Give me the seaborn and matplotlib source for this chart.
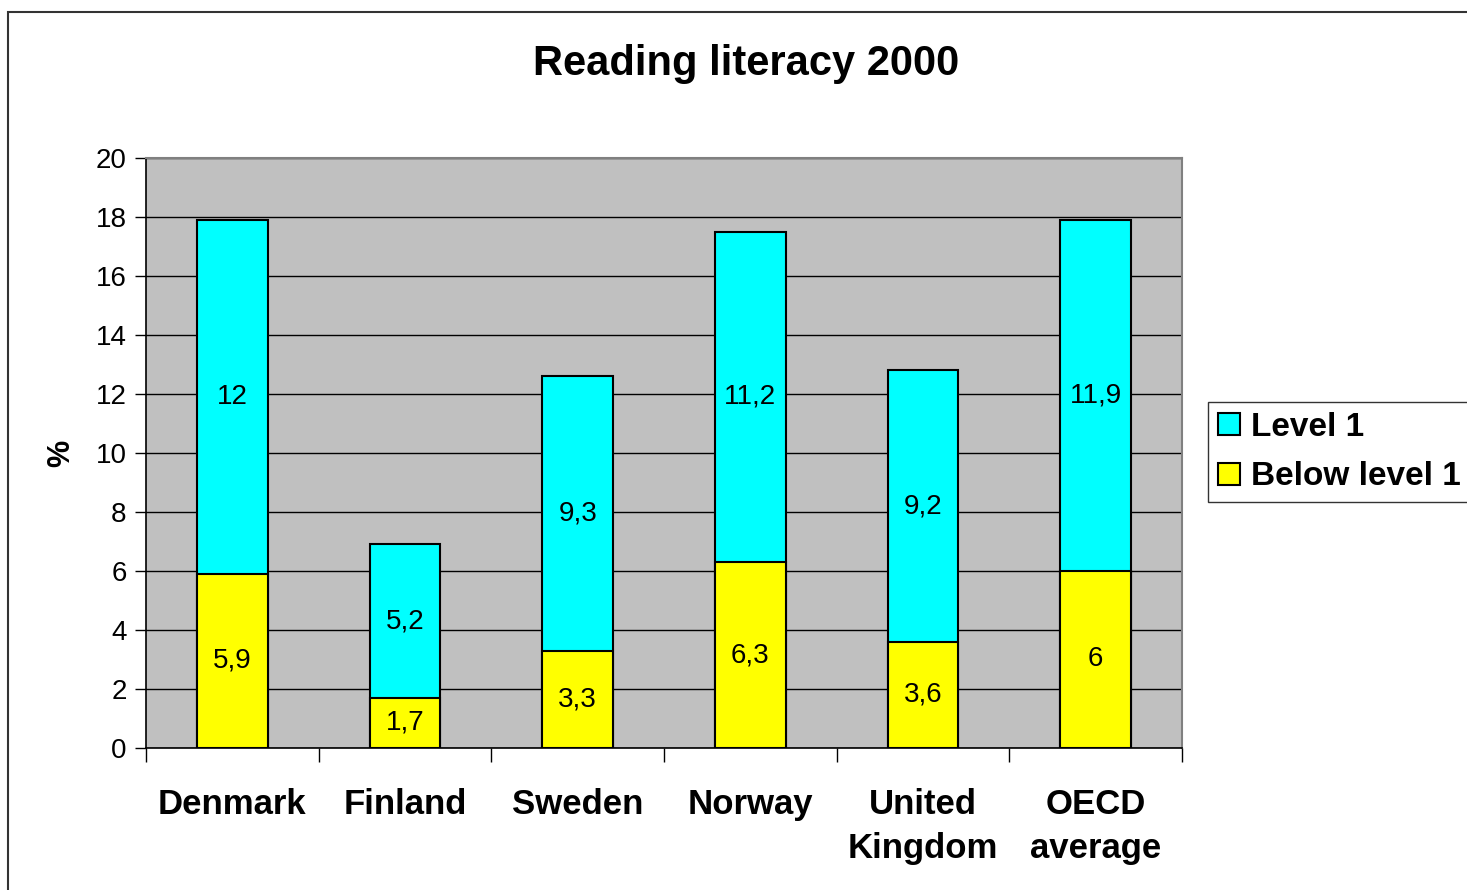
import matplotlib
matplotlib.use("Agg")
import matplotlib.pyplot as plt
import matplotlib.patches as mpatches
import numpy as np
import pandas as pd
import seaborn as sns

countries = ["Denmark", "Finland", "Sweden", "Norway", "United\nKingdom", "OECD\naverage"]
below_level1 = [5.9, 1.7, 3.3, 6.3, 3.6, 6.0]
level1 = [12.0, 5.2, 9.3, 11.2, 9.2, 11.9]
bar_labels_below = ["5,9", "1,7", "3,3", "6,3", "3,6", "6"]
bar_labels_level1 = ["12", "5,2", "9,3", "11,2", "9,2", "11,9"]

df = pd.DataFrame({"country": countries, "below": below_level1, "level1": level1})
df["total"] = df["below"] + df["level1"]

sns.set_style("white")
plt.rcParams["font.family"] = ["Liberation Sans", "DejaVu Sans"]
plt.rcParams["text.color"] = "black"
plt.rcParams["axes.labelcolor"] = "black"
plt.rcParams["xtick.color"] = "black"
plt.rcParams["ytick.color"] = "black"

fig = plt.figure(figsize=(14.67, 8.9), dpi=100)
ax = fig.add_axes([146 / 1467, 1 - 748 / 890, (1182 - 146) / 1467, (748 - 158) / 890])
ax.set_facecolor("#c0c0c0")

sns.barplot(data=df, x="country", y="total", color="#00ffff", saturation=1,
            width=0.41, edgecolor="black", linewidth=1.5, ax=ax, zorder=3)
sns.barplot(data=df, x="country", y="below", color="#ffff00", saturation=1,
            width=0.41, edgecolor="black", linewidth=1.5, ax=ax, zorder=4)

# segment labels in the middle of each piece
for i, row in df.iterrows():
    ax.text(i, row["below"] / 2, bar_labels_below[i], ha="center", va="center",
            fontsize=20, zorder=5)
    ax.text(i, row["below"] + row["level1"] / 2, bar_labels_level1[i], ha="center",
            va="center", fontsize=20, zorder=5)

ax.set_ylim(0, 20)
ax.set_xlim(-0.5, len(countries) - 0.5)
ax.set_yticks(np.arange(0, 21, 2))
ax.yaxis.grid(True, color="black", linewidth=1)
ax.set_axisbelow(True)
ax.tick_params(axis="y", left=True, length=8, width=1, labelsize=20, pad=6)

ax.set_xticks(range(len(countries)))
ax.set_xticklabels(countries, fontsize=25, fontweight="bold", linespacing=1.45, va="top")
ax.tick_params(axis="x", bottom=False, pad=25)
ax.set_xticks(np.arange(-0.5, len(countries), 1), minor=True)
ax.tick_params(axis="x", which="minor", bottom=True, length=10, width=1, color="black")

ax.set_xlabel("")
ax.set_ylabel("%", fontsize=22, fontweight="bold", labelpad=14)

for side in ["top", "right"]:
    ax.spines[side].set_color("#808080")
    ax.spines[side].set_linewidth(1.5)
for side in ["left", "bottom"]:
    ax.spines[side].set_color("black")
    ax.spines[side].set_linewidth(1.2)

fig.suptitle("Reading literacy 2000", fontsize=30, fontweight="bold",
             x=746 / 1467, y=1 - 64 / 890, va="center")

handles = [
    mpatches.Patch(facecolor="#00ffff", edgecolor="black", linewidth=1.5, label="Level 1"),
    mpatches.Patch(facecolor="#ffff00", edgecolor="black", linewidth=1.5, label="Below level 1"),
]
leg = fig.legend(handles=handles, loc="upper left",
                 bbox_to_anchor=(1208 / 1467, 1 - 402 / 890),
                 prop={"weight": "bold", "size": 24}, frameon=True, fancybox=False,
                 handlelength=0.65, handleheight=0.65, handletextpad=0.35,
                 borderpad=0.3, labelspacing=0.55, borderaxespad=0)
leg.get_frame().set_edgecolor("black")
leg.get_frame().set_linewidth(1)

fig.add_artist(mpatches.Rectangle((8 / 1467, -0.1), 1.2, 1.1 - 12 / 890,
                                  transform=fig.transFigure, fill=False,
                                  edgecolor="#333333", linewidth=1.5))

fig.savefig("out.png", dpi=100)
